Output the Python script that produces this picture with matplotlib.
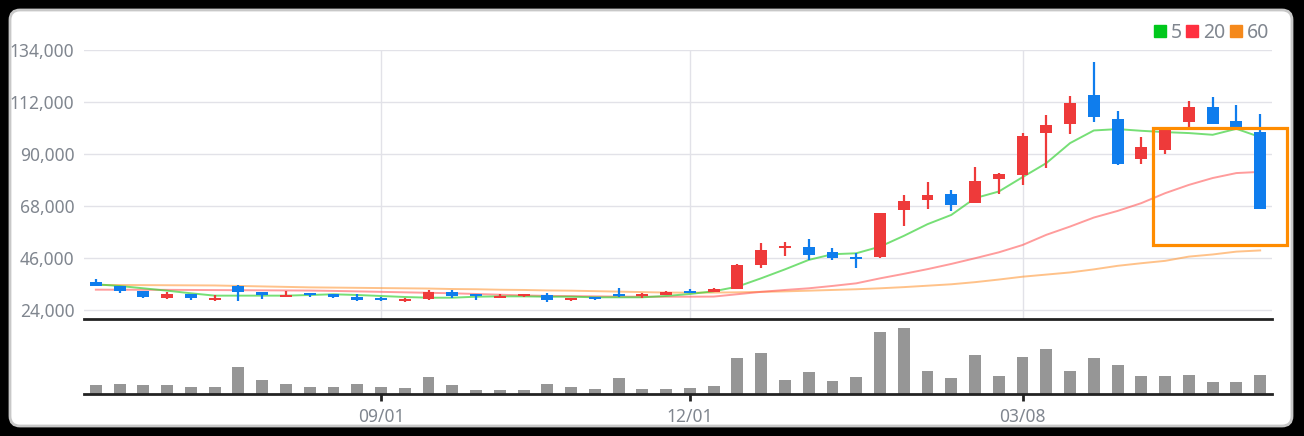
import numpy as np
import matplotlib.pyplot as plt
from matplotlib.patches import Rectangle, FancyBboxPatch
from matplotlib.lines import Line2D
from matplotlib.transforms import IdentityTransform

plt.rcParams["font.family"] = ["Noto Sans", "DejaVu Sans"]

# weekly candles (open / high / low / close)
opens = [35970, 34400, 32300, 29330, 31020, 28500, 34400, 31750, 29750, 31320,
         30900, 29750, 29330, 28060, 28900, 31750, 30470, 29330, 30170, 30470,
         28500, 29750, 30900, 30050, 30470, 32170, 31750, 33020, 43170, 50300,
         50900, 48670, 46000, 46680, 66570, 70800, 73200, 69540, 79700, 80970,
         98720, 102530, 115100, 104900, 88150, 91950, 103400, 110000, 104100, 99450]
highs = [37240, 34400, 32300, 31750, 31020, 30470, 34830, 31750, 32170, 31320,
         30900, 30900, 29750, 29200, 32600, 32600, 30470, 31020, 30900, 31320,
         29330, 29750, 33440, 31450, 32170, 33020, 33440, 43600, 52480, 52900,
         54170, 50360, 48250, 65170, 72780, 78290, 74900, 84620, 82100, 99030,
         106630, 114690, 129000, 108300, 97330, 100000, 112560, 114270, 110850, 107060]
lows = [34400, 31300, 29330, 28780, 28500, 28060, 27940, 28900, 29750, 29750,
        29330, 28060, 28060, 27640, 28500, 29330, 28500, 29330, 29750, 27640,
        28060, 28500, 29630, 29330, 30470, 31320, 31750, 33020, 41900, 47000,
        45300, 45300, 42020, 46250, 59670, 67000, 66150, 69540, 73330, 77140,
        84330, 98300, 103400, 85200, 86000, 90260, 100800, 102530, 100700, 67000]
closes = [34400, 32300, 29750, 31020, 29330, 29200, 31870, 30600, 30600, 30600,
          29750, 28500, 28500, 28780, 31750, 30050, 29900, 30170, 30900, 28500,
          29330, 28900, 30050, 30900, 31750, 31320, 33020, 43170, 49520, 50500,
          47400, 46250, 45800, 65170, 70240, 72780, 68700, 78700, 81670, 97760,
          102400, 111730, 105500, 86000, 93100, 100000, 110000, 102530, 100700, 67000]
volumes = [26, 29, 26, 26, 20, 20, 80, 41, 29, 20, 20, 29, 20, 17, 50, 26, 11, 11, 11, 29,
           20, 14, 47, 14, 14, 17, 23, 107, 122, 41, 65, 38, 50, 185, 197, 68, 47, 116, 53, 110,
           134, 68, 107, 86, 53, 53, 56, 35, 35, 56]

ma5 = [35000, 34280, 33300, 32300, 31200, 30200, 30200, 30200, 30200, 30470,
       30770, 30470, 30050, 29630, 29330, 29330, 29750, 29900, 29900, 29750,
       29750, 29500, 29500, 29500, 30050, 30900, 32040, 34000, 37540, 41300,
       45300, 47700, 48100, 50900, 55440, 60400, 64300, 71400, 74200, 80270,
       86200, 94660, 100000, 100580, 99860, 99300, 98900, 98170, 100700, 97200]
ma20 = [32720, 32700, 32680, 32650, 32600, 32550, 32500, 32450, 32400, 32350,
        32200, 32000, 31800, 31600, 31400, 31200, 30900, 30600, 30300, 30100,
        30000, 29900, 29800, 29750, 29750, 29750, 29800, 30800, 31800, 32600,
        33300, 34300, 35400, 37500, 39400, 41400, 43600, 46000, 48500, 51600,
        55900, 59400, 63200, 66000, 69300, 73500, 77000, 79900, 82000, 82500]
ma60 = [34700, 34700, 34650, 34600, 34550, 34500, 34300, 34100, 33900, 33700,
        33600, 33500, 33400, 33300, 33200, 33000, 32900, 32700, 32600, 32400,
        32300, 32100, 31900, 31700, 31500, 31450, 31500, 31600, 31800, 32000,
        32300, 32600, 32900, 33300, 33800, 34400, 35000, 35900, 37000, 38200,
        39100, 40000, 41300, 42800, 43900, 44900, 46700, 47600, 48800, 49300]

date_pos = [12, 25, 39]
date_labels = ["09/01", "12/01", "03/08"]
price_ticks = [24000, 46000, 68000, 90000, 112000, 134000]

# highlighted zone (candle index range, price range)
box_x = (44.47, 50.14)
box_y = (51760, 100840)

UP, DOWN = "#ee3a3a", "#0f7ded"
TXT = "#80868f"

fig = plt.figure(figsize=(13.04, 4.36), dpi=100)
fig.patch.set_facecolor("black")
panel = FancyBboxPatch((10, 10), 1282, 416, boxstyle="round,pad=0,rounding_size=10",
                       transform=IdentityTransform(), facecolor="white",
                       edgecolor="#c8c8c8", linewidth=2, zorder=-1)
fig.add_artist(panel)

ax = fig.add_axes([0.0644, 0.2683, 0.9111, 0.617])
axv = fig.add_axes([0.0644, 0.0963, 0.9111, 0.172])
for a in (ax, axv):
    a.set_facecolor("none")

x = np.arange(len(opens))
o, h, l, c = map(np.array, (opens, highs, lows, closes))
colors = [UP if cc >= oo else DOWN for oo, cc in zip(o, c)]
body = np.maximum(np.abs(c - o), 900)
ax.vlines(x, l, h, colors=colors, linewidth=1.6, zorder=3)
ax.bar(x, body, bottom=np.minimum(o, c), width=0.5, color=colors, zorder=4)

ax.plot(x, ma60, color="#ff9a3c", alpha=0.6, lw=1.4, zorder=2)
ax.plot(x, ma20, color="#ff5a5a", alpha=0.6, lw=1.4, zorder=2)
ax.plot(x, ma5, color="#3cd23c", alpha=0.7, lw=1.4, zorder=2)

ax.add_patch(Rectangle((box_x[0], box_y[0]), box_x[1] - box_x[0], box_y[1] - box_y[0],
                       fill=False, edgecolor="#ff8c00", linewidth=2.3,
                       clip_on=False, zorder=6))

ax.set_xlim(-0.5, 49.5)
ax.set_ylim(20320, 134000)
ax.set_yticks(price_ticks)
ax.set_yticklabels([f"{v:,}" for v in price_ticks])
ax.set_xticks(date_pos)
ax.tick_params(axis="x", length=0, labelbottom=False)
ax.tick_params(axis="y", length=0, pad=7, labelsize=12.5, labelcolor=TXT)
ax.grid(True, color="#e2e2e8", linewidth=1, zorder=0)
ax.set_axisbelow(True)
for s in ("top", "right", "left"):
    ax.spines[s].set_visible(False)
ax.spines["bottom"].set_color("#222222")
ax.spines["bottom"].set_linewidth(2)

axv.bar(x, volumes, width=0.5, color="#969696", zorder=2)
axv.set_xlim(-0.5, 49.5)
axv.set_ylim(0, 225)
axv.set_yticks([])
axv.set_xticks(date_pos)
axv.set_xticklabels(date_labels)
axv.tick_params(axis="x", length=5, width=2, color="#222222", labelsize=12.5,
                labelcolor=TXT, pad=5)
for s in ("top", "right", "left"):
    axv.spines[s].set_visible(False)
axv.spines["bottom"].set_color("#222222")
axv.spines["bottom"].set_linewidth(2)

handles = [Line2D([], [], linestyle="none", marker="s", markersize=8.5, color=col, label=lab)
           for col, lab in (("#00c81c", "5"), ("#ff3040", "20"), ("#f5891b", "60"))]
fig.legend(handles=handles, loc="center right", bbox_to_anchor=(0.9865, 0.925), ncol=3,
           frameon=False, handlelength=0.7, handletextpad=0.2, columnspacing=0.2,
           labelcolor=TXT, prop={"size": 14})

fig.savefig("out.png", dpi=100, facecolor=fig.get_facecolor())
